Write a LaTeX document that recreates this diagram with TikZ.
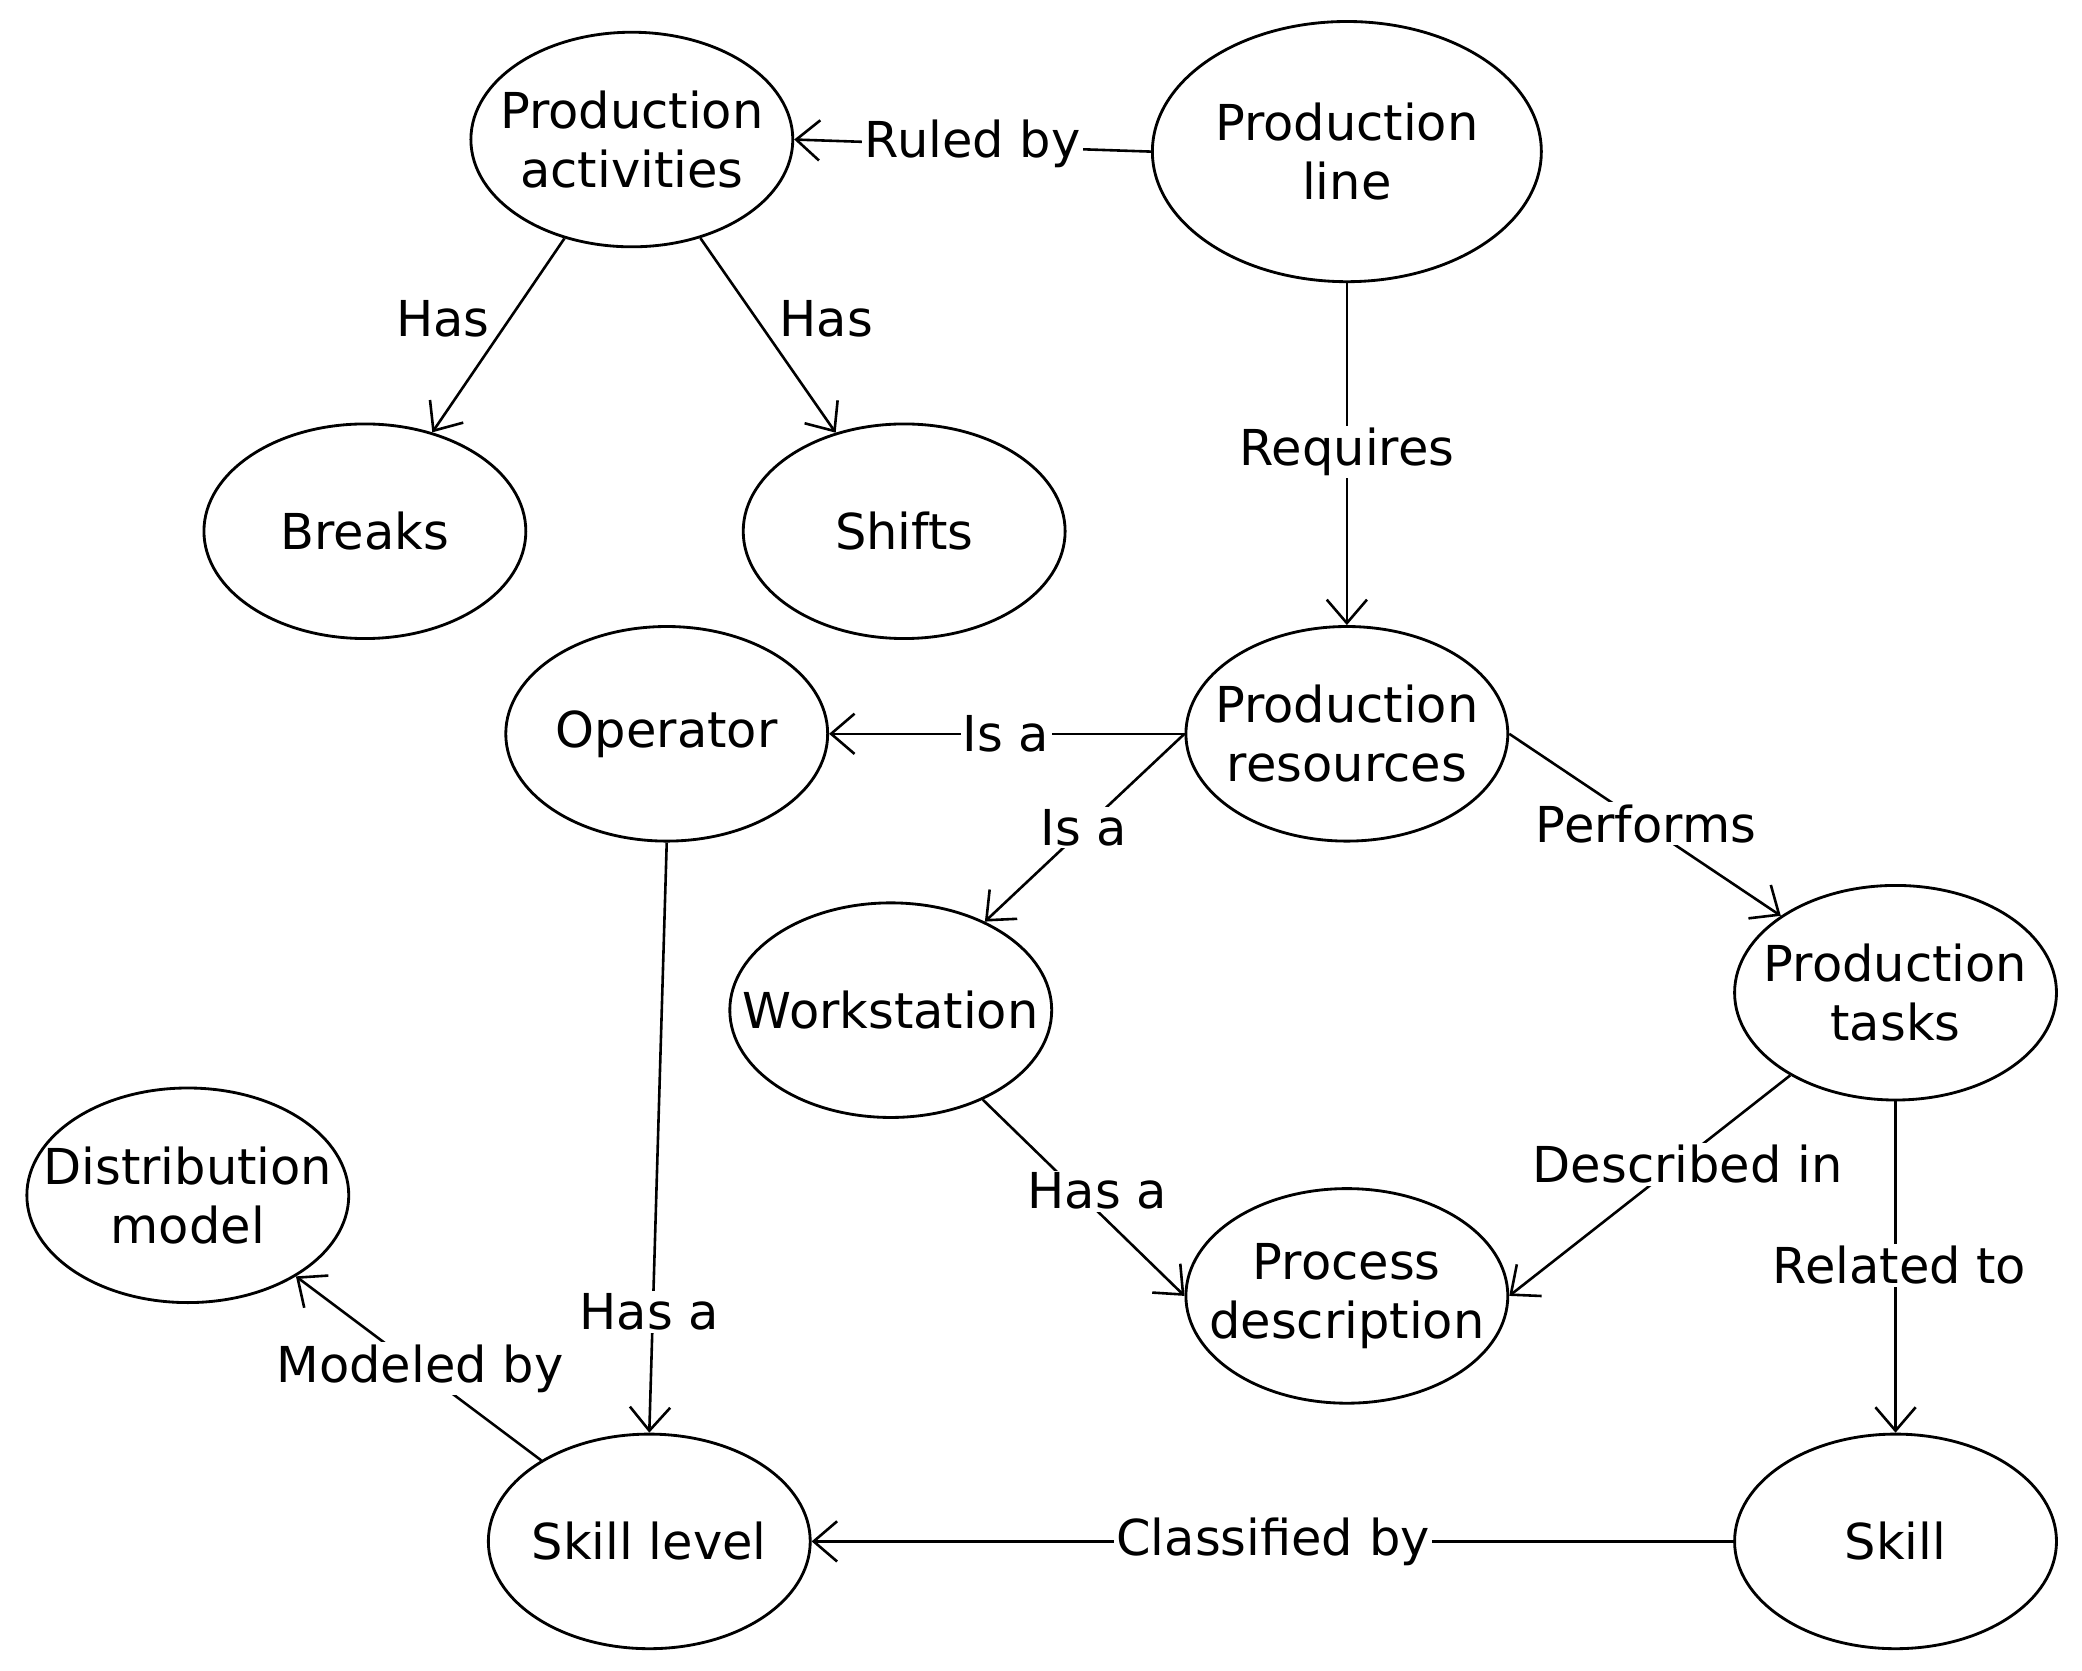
\documentclass[tikz,border=0pt]{standalone}
\usepackage{fontspec}
\setmainfont{DejaVu Sans}
\usetikzlibrary{shapes.geometric,arrows.meta}
\begin{document}
\begin{tikzpicture}[x=0.02cm,y=-0.02cm,
  ent/.style={ellipse,draw,line width=1.2pt,minimum width=4.8cm,minimum height=3.2cm,inner xsep=-1.2cm,inner ysep=-0.4cm,align=center,font=\fontsize{21}{25}\selectfont},
  lbl/.style={fill=white,inner sep=1pt,font=\fontsize{21}{25}\selectfont},
  arr/.style={line width=1.1pt,-{Straight Barb[length=3.5mm,width=6mm]}}]
\useasboundingbox (0,0) rectangle (1552,1245);
\node[ent] (pa) at (471,104) {Production\\activities};
\node[ent,minimum width=5.8cm,minimum height=3.88cm] (pl) at (1004,113) {Production\\line};
\node[ent] (br) at (272,396) {Breaks};
\node[ent] (sh) at (674,396) {Shifts};
\node[ent] (op) at (497,547) {Operator};
\node[ent] (pr) at (1004,547) {Production\\resources};
\node[ent] (ws) at (664,753) {Workstation};
\node[ent] (pt) at (1413,740) {Production\\tasks};
\node[ent] (dm) at (140,891) {Distribution\\model};
\node[ent] (pd) at (1004,966) {Process\\description};
\node[ent] (sl) at (484,1149) {Skill level};
\node[ent] (sk) at (1413,1149) {Skill};
\draw[arr] (pl.west) -- (pa.east);
\draw[arr] (pa) -- (br);
\draw[arr] (pa) -- (sh);
\draw[arr] (pl.south) -- (pr.north);
\draw[arr] (pr.west) -- (op.east);
\draw[arr] (pr.west) -- (ws);
\draw[arr] (pr.east) -- (pt);
\draw[arr] (ws) -- (pd.west);
\draw[arr] (pt) -- (pd.east);
\draw[arr] (pt.south) -- (sk.north);
\draw[arr] (op.south) -- (sl.north);
\draw[arr] (sk.west) -- (sl.east);
\draw[arr] (sl) -- (dm);
\node[lbl] at (725,107) {Ruled by};
\node[lbl] at (330,238) {Has};
\node[lbl] at (616,238) {Has};
\node[lbl] at (1004,337) {Requires};
\node[lbl] at (750,547) {Is a};
\node[lbl] at (808,617) {Is a};
\node[lbl] at (1227,614) {Performs};
\node[lbl] at (818,888) {Has a};
\node[lbl] at (1258,868) {Described in};
\node[lbl] at (1416,943) {Related to};
\node[lbl] at (484,978) {Has a};
\node[lbl] at (313,1020) {Modeled by};
\node[lbl] at (949,1149) {Classified by};
\end{tikzpicture}
\end{document}
